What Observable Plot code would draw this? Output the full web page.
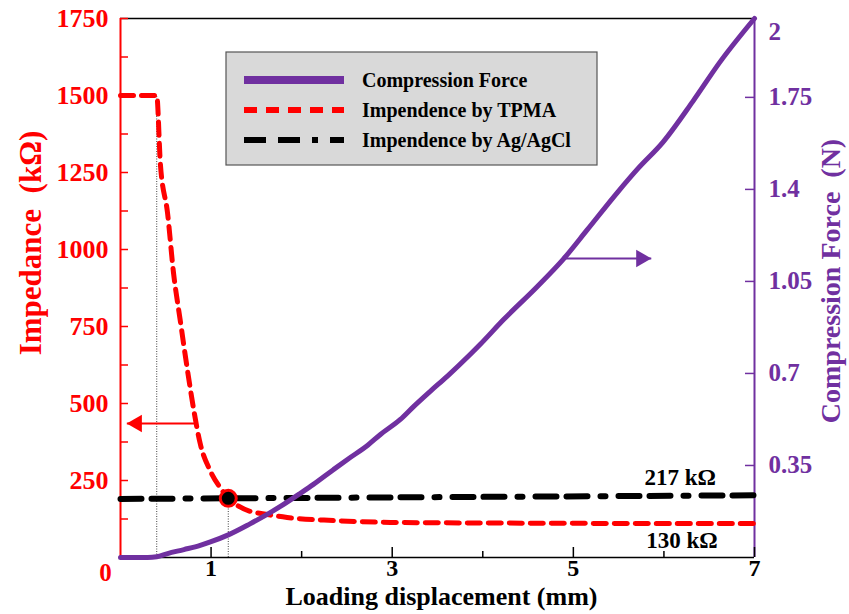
<!DOCTYPE html>
<html><head><meta charset="utf-8">
<script src="https://cdn.jsdelivr.net/npm/d3@7"></script>
<script src="https://cdn.jsdelivr.net/npm/@observablehq/plot@0.6"></script>
<style>
body{margin:0;background:#fff;}
#chart{position:relative;width:849px;height:614px;}
</style></head><body><div id="chart"></div>
<script>
// ---- data ----
const forceX = [0, 0.3, 0.4, 0.52, 0.7, 0.88, 1.0, 1.19, 1.43, 1.6, 1.77, 1.99, 2.13, 2.35, 2.51, 2.73, 2.87, 3.09, 3.23, 3.42, 3.61, 3.86, 3.97, 4.23, 4.6, 4.89, 5.15, 5.49, 5.71, 5.99, 6.32, 6.62, 7.0];
const forceN = [0, 0, 0.003, 0.015, 0.03, 0.046, 0.06, 0.086, 0.128, 0.16, 0.195, 0.245, 0.278, 0.334, 0.374, 0.427, 0.468, 0.525, 0.572, 0.632, 0.69, 0.772, 0.81, 0.905, 1.03, 1.135, 1.245, 1.39, 1.478, 1.58, 1.735, 1.885, 2.05];
const tpmaX = [0, 0.4, 0.44, 0.52, 0.585, 0.66, 0.74, 0.81, 0.88, 0.99, 1.1, 1.19, 1.29, 1.43, 1.55, 1.84, 2.35, 2.98, 4, 5, 6, 7];
const tpmaK = [1500, 1500, 1279, 1117, 925, 769, 607, 477, 370, 282, 227, 192, 169, 150, 143, 130, 120, 114, 112, 111, 110, 110];
const agX = [0, 7];
const agK = [190, 202];
const seriesNames = ["Compression Force", "Impendence by TPMA", "Impendence by Ag/AgCl"];
const impTicks = [250, 500, 750, 1000, 1250, 1500, 1750];
const impMinor = [125, 375, 625, 875, 1125, 1375, 1625];
const forceTicks = [0.35, 0.7, 1.05, 1.4, 1.75, 2];
const forceTickLabels = ["0.35", "0.7", "1.05", "1.4", "1.75", "2"];
const xMajor = [1, 3, 5, 7];
const xMinor = [2, 4, 6];
const markerX = 1.19, markerK = 192, kneeX = 0.4, kneeK = 1500;
const noteText = ["217 kΩ", "130 kΩ"];
const noteX = [6.18, 6.2];
const noteK = [258, 56];
const redArrow = {x1: 0.85, x2: 0.07, k: 435};
const purpleArrow = {x1: 4.89, x2: 5.86, k: 971};

const impMax = 1750, forceMax = 2.05, K = impMax / forceMax;
const RED = "#ff0000", PURPLE = "#7030a0";
const FONT = "'Liberation Serif', 'Times New Roman', serif";

const forceData = forceX.map((x, i) => ({x, y: forceN[i] * K}));
const tpmaData = tpmaX.map((x, i) => ({x, y: tpmaK[i]}));
const agData = agX.map((x, i) => ({x, y: agK[i]}));
const forceLabel = d => forceTickLabels[forceTicks.findIndex(f => Math.abs(f * K - d) < 1e-6)];

const plot = Plot.plot({
  width: 849, height: 614,
  marginLeft: 120, marginRight: 95, marginTop: 18, marginBottom: 57,
  x: {domain: [0, 7]},
  y: {domain: [0, impMax]},
  style: {fontFamily: FONT, fontWeight: "bold", background: "#fff"},
  marks: [
    // guide lines
    Plot.ruleX([kneeX], {y1: 0, y2: kneeK, stroke: "#444", strokeWidth: 1, strokeDasharray: "1,1.5"}),
    Plot.ruleX([markerX], {y1: 0, y2: markerK, stroke: "#444", strokeWidth: 1, strokeDasharray: "1,1.5"}),
    // frame
    Plot.ruleY([impMax], {stroke: "#000", strokeWidth: 1.5}),
    Plot.ruleY([0], {stroke: "#000", strokeWidth: 1.5}),
    Plot.ruleX([0], {stroke: RED, strokeWidth: 2}),
    Plot.ruleX([7], {stroke: PURPLE, strokeWidth: 2}),
    // left axis
    Plot.axisY(impTicks.concat(impMinor), {anchor: "left", tickSize: -8, fill: "none", stroke: RED, strokeWidth: 1.5, label: null}),
    Plot.axisY(impTicks, {anchor: "left", tickSize: 0, tickPadding: 12, fill: RED, fontSize: 26, fontWeight: "bold", tickFormat: d => String(d), label: null}),
    // right axis
    Plot.axisY(forceTicks.slice(0, 5).map(f => f * K), {anchor: "right", tickSize: -10, fill: "none", stroke: PURPLE, strokeWidth: 1.5, label: null}),
    Plot.axisY(forceTicks.map(f => f * K), {anchor: "right", tickSize: 0, tickPadding: 14, fill: PURPLE, fontSize: 25, fontWeight: "bold", tickFormat: forceLabel, label: null}),
    // bottom axis
    Plot.axisX(xMajor, {anchor: "bottom", tickSize: -10, fill: "none", stroke: "#000", strokeWidth: 1.5, label: null}),
    Plot.axisX(xMinor, {anchor: "bottom", tickSize: -6, fill: "none", stroke: "#000", strokeWidth: 1.5, label: null}),
    Plot.axisX(xMajor, {anchor: "bottom", tickSize: 0, tickPadding: 1, fill: "#000", fontSize: 24, fontWeight: "bold", label: null}),
    Plot.text([0], {x: 0, y: 0, text: d => String(d), dx: -15, dy: 15, fill: RED, fontSize: 25, fontWeight: "bold"}),
    // titles
    Plot.text(["Loading displacement (mm)"], {frameAnchor: "bottom", dx: 4, dy: 47, textAnchor: "middle", text: d => d, fill: "#000", fontSize: 26, fontWeight: "bold"}),
    Plot.text(["Impedance  (kΩ)"], {frameAnchor: "left", dx: -89, dy: -45, rotate: -90, textAnchor: "middle", text: d => d, fill: RED, fontSize: 31, fontWeight: "bold"}),
    Plot.text(["Compression Force  (N)"], {frameAnchor: "right", dx: 77, dy: -7, rotate: -90, textAnchor: "middle", text: d => d, fill: PURPLE, fontSize: 28, fontWeight: "bold"}),
    // series
    Plot.line(agData, {x: "x", y: "y", stroke: "#000", strokeWidth: 6, strokeDasharray: "21,10,21,13,5,13"}),
    Plot.line(tpmaData, {x: "x", y: "y", stroke: RED, strokeWidth: 5, strokeDasharray: "13,8", curve: "monotone-x"}),
    Plot.line(forceData, {x: "x", y: "y", stroke: PURPLE, strokeWidth: 5, curve: "monotone-x"}),
    Plot.dot([0], {x: markerX, y: markerK, r: 8, fill: "#000", stroke: RED, strokeWidth: 3}),
    // arrows
    Plot.link([redArrow], {x1: "x1", x2: "x2", y1: "k", y2: "k", stroke: RED, strokeWidth: 2}),
    Plot.dot([redArrow], {x: "x2", y: "k", symbol: "triangle", r: 6.5, rotate: -90, fill: RED, stroke: "none", dx: 10}),
    Plot.link([purpleArrow], {x1: "x1", x2: "x2", y1: "k", y2: "k", stroke: PURPLE, strokeWidth: 2}),
    Plot.dot([purpleArrow], {x: "x2", y: "k", symbol: "triangle", r: 6.5, rotate: 90, fill: PURPLE, stroke: "none", dx: -10}),
    // notes
    Plot.text(noteText, {x: (d, i) => noteX[i], y: (d, i) => noteK[i], text: d => d, fill: "#000", fontSize: 23, fontWeight: "bold"})
  ]
});

document.getElementById("chart").appendChild(plot);

// legend
const svg = d3.select(plot);
const lg = svg.append("g").attr("font-family", FONT).attr("font-weight", "bold");
lg.append("rect").attr("x", 226).attr("y", 52).attr("width", 371).attr("height", 113)
  .attr("fill", "#d9d9d9").attr("stroke", "#555").attr("stroke-width", 1.2);
const legendStyles = [
  {stroke: PURPLE, w: 8, dash: null},
  {stroke: RED, w: 6, dash: "13,9"},
  {stroke: "#000", w: 6, dash: "22,12,22,12,6,12"}
];
seriesNames.forEach((name, i) => {
  const y = 80 + i * 30;
  const s = legendStyles[i];
  lg.append("line").attr("x1", 244).attr("x2", 344).attr("y1", y).attr("y2", y)
    .attr("stroke", s.stroke).attr("stroke-width", s.w).attr("stroke-dasharray", s.dash);
  lg.append("text").attr("x", 362).attr("y", y + 7).attr("font-size", 20)
    .attr("text-anchor", "start").attr("fill", "#000").text(name);
});
</script></body></html>
